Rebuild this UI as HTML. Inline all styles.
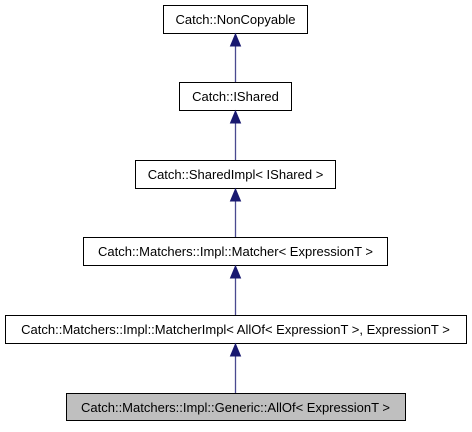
<!DOCTYPE html>
<html><head><style>body{margin:0;background:#fff}</style></head><body>
<svg width="472" height="427" xmlns="http://www.w3.org/2000/svg" font-family="Liberation Sans, Arial, sans-serif" font-size="13">
<g stroke="#000" stroke-width="1">
<rect x="163.5" y="5.5" width="144" height="28" fill="#fff"/>
<rect x="179.5" y="82.5" width="112" height="28" fill="#fff"/>
<rect x="135.5" y="160.5" width="200" height="28" fill="#fff"/>
<rect x="83.5" y="237.5" width="304" height="28" fill="#fff"/>
<rect x="5.5" y="315.5" width="461" height="28" fill="#fff"/>
<rect x="66.5" y="393.5" width="339" height="27" fill="#bfbfbf"/>
</g>
<g text-anchor="middle" fill="#000">
<text x="235.5" y="24">Catch::NonCopyable</text>
<text x="235.5" y="101">Catch::IShared</text>
<text x="235.5" y="179">Catch::SharedImpl&lt; IShared &gt;</text>
<text x="235.5" y="256">Catch::Matchers::Impl::Matcher&lt; ExpressionT &gt;</text>
<text x="235.5" y="334">Catch::Matchers::Impl::MatcherImpl&lt; AllOf&lt; ExpressionT &gt;, ExpressionT &gt;</text>
<text x="235.5" y="412">Catch::Matchers::Impl::Generic::AllOf&lt; ExpressionT &gt;</text>
</g>
<g stroke="#4a4a90" stroke-width="1.3">
<line x1="235.5" y1="45" x2="235.5" y2="82"/>
<line x1="235.5" y1="122" x2="235.5" y2="160"/>
<line x1="235.5" y1="200" x2="235.5" y2="237"/>
<line x1="235.5" y1="277" x2="235.5" y2="315"/>
<line x1="235.5" y1="355" x2="235.5" y2="393"/>
</g>
<g fill="#191970" stroke="#191970">
<polygon points="235.5,34 230.5,46 240.5,46"/>
<polygon points="235.5,111 230.5,123 240.5,123"/>
<polygon points="235.5,189 230.5,201 240.5,201"/>
<polygon points="235.5,266 230.5,278 240.5,278"/>
<polygon points="235.5,344 230.5,356 240.5,356"/>
</g>
</svg>
</body></html>
